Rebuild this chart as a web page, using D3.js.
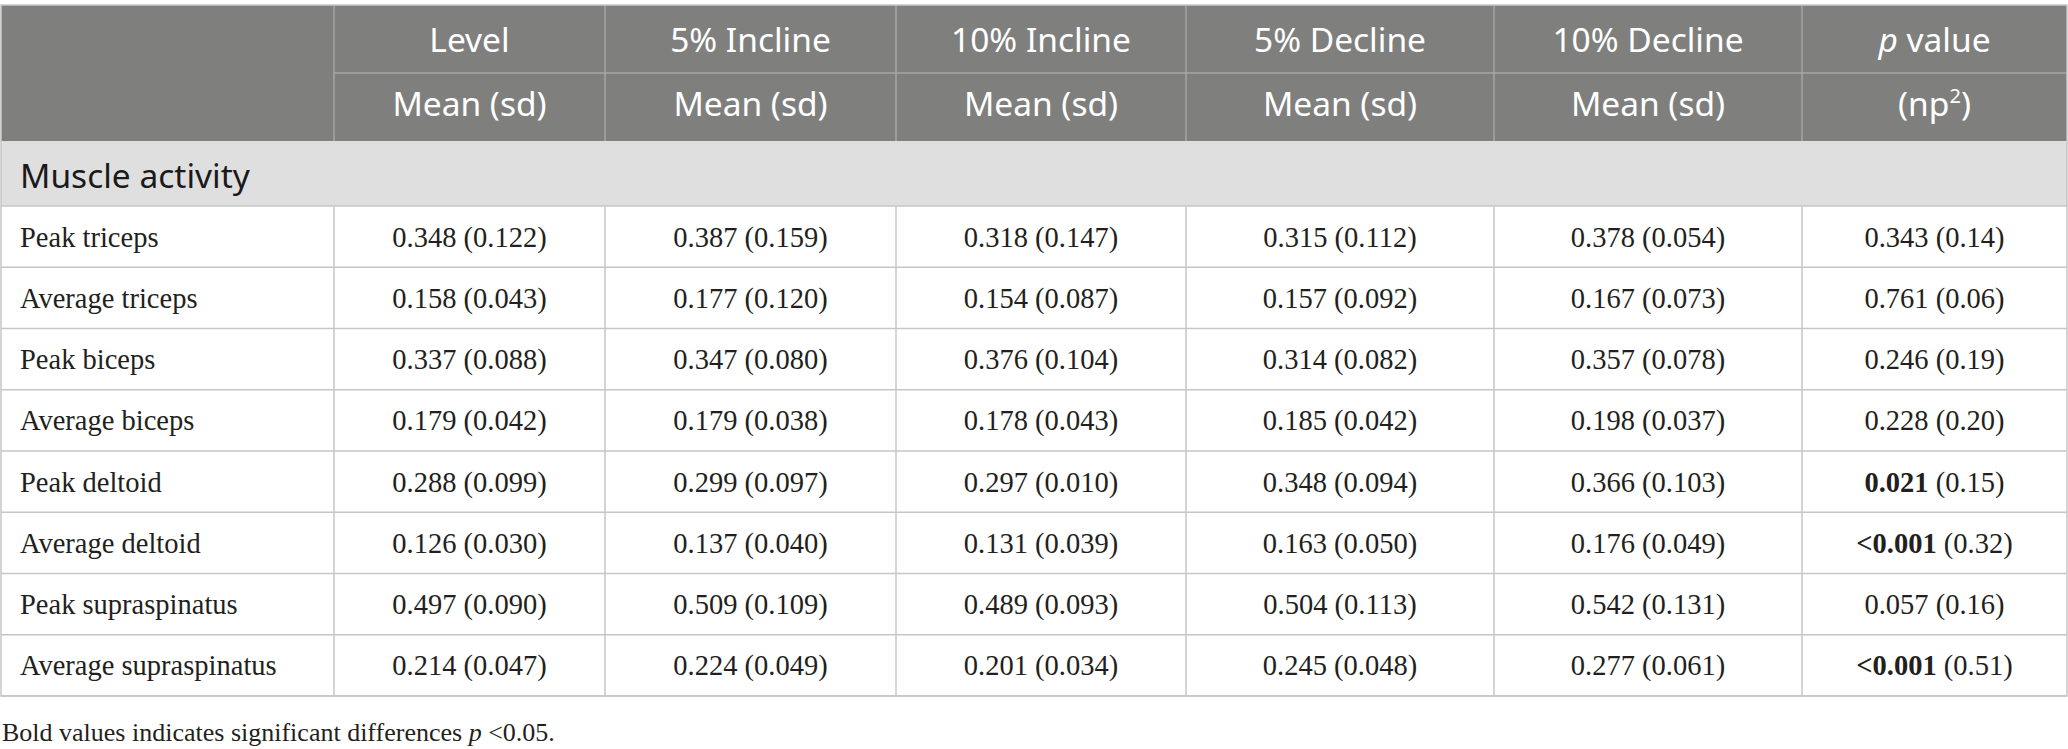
<!DOCTYPE html>
<html>
<head>
<meta charset="utf-8">
<script src="https://cdn.jsdelivr.net/npm/d3@7"></script>
<style>
  body { margin: 0; background: #fff; }
  svg { display: block; }
</style>
</head>
<body>
<script>
// table values
var conditions = ["Level", "5% Incline", "10% Incline", "5% Decline", "10% Decline"]
var rowLabels = ["Peak triceps", "Average triceps", "Peak biceps", "Average biceps",
                 "Peak deltoid", "Average deltoid", "Peak supraspinatus", "Average supraspinatus"]

// mean and sd per condition (columns follow conditions[])
var levelMean     = [0.348, 0.158, 0.337, 0.179, 0.288, 0.126, 0.497, 0.214]
var levelSd       = [0.122, 0.043, 0.088, 0.042, 0.099, 0.030, 0.090, 0.047]
var incline5Mean  = [0.387, 0.177, 0.347, 0.179, 0.299, 0.137, 0.509, 0.224]
var incline5Sd    = [0.159, 0.120, 0.080, 0.038, 0.097, 0.040, 0.109, 0.049]
var incline10Mean = [0.318, 0.154, 0.376, 0.178, 0.297, 0.131, 0.489, 0.201]
var incline10Sd   = [0.147, 0.087, 0.104, 0.043, 0.010, 0.039, 0.093, 0.034]
var decline5Mean  = [0.315, 0.157, 0.314, 0.185, 0.348, 0.163, 0.504, 0.245]
var decline5Sd    = [0.112, 0.092, 0.082, 0.042, 0.094, 0.050, 0.113, 0.048]
var decline10Mean = [0.378, 0.167, 0.357, 0.198, 0.366, 0.176, 0.542, 0.277]
var decline10Sd   = [0.054, 0.073, 0.078, 0.037, 0.103, 0.049, 0.131, 0.061]

var pValues = ["0.343", "0.761", "0.246", "0.228", "0.021", "<0.001", "0.057", "<0.001"]
var etaSq   = [0.14, 0.06, 0.19, 0.20, 0.15, 0.32, 0.16, 0.51]
var pBold   = [false, false, false, false, true, true, false, true]

var sectionTitle = "Muscle activity"
var footnote = "Bold values indicates significant differences "

const W = 2068, H = 749
// column widths (label column first)
const colW = [333, 271, 291, 290, 308, 308, 265]
const tableX = 1, tableTop = 5
const headRowH = 68, sectionH = 65, bodyH = 490

const colX = [tableX]
colW.forEach(function(w, i){ colX.push(colX[i] + w) })
const tableRight = colX[colX.length - 1]

const headerBg = "#7f807e", sectionBg = "#e0dfe0"
const headLine = "#a6a7a5", gridLine = "#c6c6c6"
const sansFont = "'Noto Sans', 'Open Sans', sans-serif"
const serifFont = "'Liberation Serif', 'DejaVu Serif', serif"
const headSize = 33.5, bodySize = 28.5

var svg = d3.select("body").append("svg")
            .attr("width", W)
            .attr("height", H)

var headBottom = tableTop + headRowH * 2
var sectionBottom = headBottom + sectionH

var yRow = d3.scaleBand()
             .domain(rowLabels)
             .range([sectionBottom, sectionBottom + bodyH])

// header background
svg.append("rect")
   .attr("x", tableX).attr("y", tableTop)
   .attr("width", tableRight - tableX).attr("height", headRowH * 2)
   .attr("fill", headerBg)

// section band
svg.append("rect")
   .attr("x", tableX).attr("y", headBottom)
   .attr("width", tableRight - tableX).attr("height", sectionH)
   .attr("fill", sectionBg)

// header lines
svg.append("line")
   .attr("x1", colX[1]).attr("x2", tableRight)
   .attr("y1", tableTop + headRowH).attr("y2", tableTop + headRowH)
   .attr("stroke", headLine).attr("stroke-width", 1.5)
for (let i = 1; i < colX.length - 1; i++){
  svg.append("line")
     .attr("x1", colX[i]).attr("x2", colX[i])
     .attr("y1", tableTop).attr("y2", headBottom)
     .attr("stroke", headLine).attr("stroke-width", 1.5)
}

// body grid
var rowEdges = rowLabels.map(function(d){ return yRow(d) })
rowEdges.push(sectionBottom + bodyH)
rowEdges.forEach(function(y){
  svg.append("line")
     .attr("x1", tableX).attr("x2", tableRight)
     .attr("y1", y).attr("y2", y)
     .attr("stroke", gridLine).attr("stroke-width", 1.5)
})
for (let i = 1; i < colX.length - 1; i++){
  svg.append("line")
     .attr("x1", colX[i]).attr("x2", colX[i])
     .attr("y1", sectionBottom).attr("y2", sectionBottom + bodyH)
     .attr("stroke", gridLine).attr("stroke-width", 1.5)
}
// outer border
svg.append("rect")
   .attr("x", tableX).attr("y", tableTop)
   .attr("width", tableRight - tableX).attr("height", sectionBottom + bodyH - tableTop)
   .attr("fill", "none")
   .attr("stroke", gridLine).attr("stroke-width", 1.5)

// header text
var colCenter = function(i){ return (colX[i] + colX[i + 1]) / 2 }
var headTop = conditions.concat(["p value"])
var headSub = conditions.map(function(){ return "Mean (sd)" }).concat(["(np2)"])

headTop.forEach(function(t, i){
  var txt = svg.append("text")
     .attr("x", colCenter(i + 1))
     .attr("y", tableTop + headRowH / 2 + 13)
     .attr("text-anchor", "middle")
     .attr("fill", "#fff")
     .style("font-family", sansFont)
     .style("font-size", headSize + "px")
  if (t == "p value"){
    txt.append("tspan").style("font-style", "italic").text("p")
    txt.append("tspan").text(" value")
  } else {
    txt.text(t)
  }
})
headSub.forEach(function(t, i){
  var txt = svg.append("text")
     .attr("x", colCenter(i + 1))
     .attr("y", tableTop + headRowH * 1.5 + 9)
     .attr("text-anchor", "middle")
     .attr("fill", "#fff")
     .style("font-family", sansFont)
     .style("font-size", headSize + "px")
  if (t == "(np2)"){
    txt.append("tspan").text("(np")
    txt.append("tspan").attr("dy", -13).style("font-size", "20px").text("2")
    txt.append("tspan").attr("dy", 13).text(")")
  } else {
    txt.text(t)
  }
})

svg.append("text")
   .attr("x", tableX + 19)
   .attr("y", headBottom + sectionH / 2 + 14)
   .attr("fill", "#1a1a1a")
   .style("font-family", sansFont)
   .style("font-size", headSize + "px")
   .text(sectionTitle)

// body text
var f3 = d3.format(".3f"), f2 = d3.format(".2f")
var means = [levelMean, incline5Mean, incline10Mean, decline5Mean, decline10Mean]
var sds = [levelSd, incline5Sd, incline10Sd, decline5Sd, decline10Sd]
var rowMid = function(d){ return yRow(d) + yRow.bandwidth() / 2 + 10 }

var rows = svg.selectAll(".row")
              .data(rowLabels)
              .enter()
              .append("g")
              .attr("class", "row")
              .style("font-family", serifFont)
              .style("font-size", bodySize + "px")
              .attr("fill", "#231f20")

rows.append("text")
    .attr("x", tableX + 19)
    .attr("y", rowMid)
    .text(function(d){ return d })

means.forEach(function(m, c){
  rows.append("text")
      .attr("x", colCenter(c + 1))
      .attr("y", rowMid)
      .attr("text-anchor", "middle")
      .text(function(d, i){ return f3(m[i]) + " (" + f3(sds[c][i]) + ")" })
})

rows.append("text")
    .attr("x", colCenter(6))
    .attr("y", rowMid)
    .attr("text-anchor", "middle")
    .each(function(d, i){
      var t = d3.select(this)
      t.append("tspan")
       .style("font-weight", pBold[i] ? "bold" : "normal")
       .text(pValues[i])
      t.append("tspan").text(" (" + f2(etaSq[i]) + ")")
    })

// footnote
var foot = svg.append("text")
   .attr("x", 2)
   .attr("y", sectionBottom + bodyH + 45)
   .attr("fill", "#231f20")
   .style("font-family", serifFont)
   .style("font-size", "26px")
foot.append("tspan").text(footnote)
foot.append("tspan").style("font-style", "italic").text("p")
foot.append("tspan").text(" <0.05.")
</script>
</body>
</html>
